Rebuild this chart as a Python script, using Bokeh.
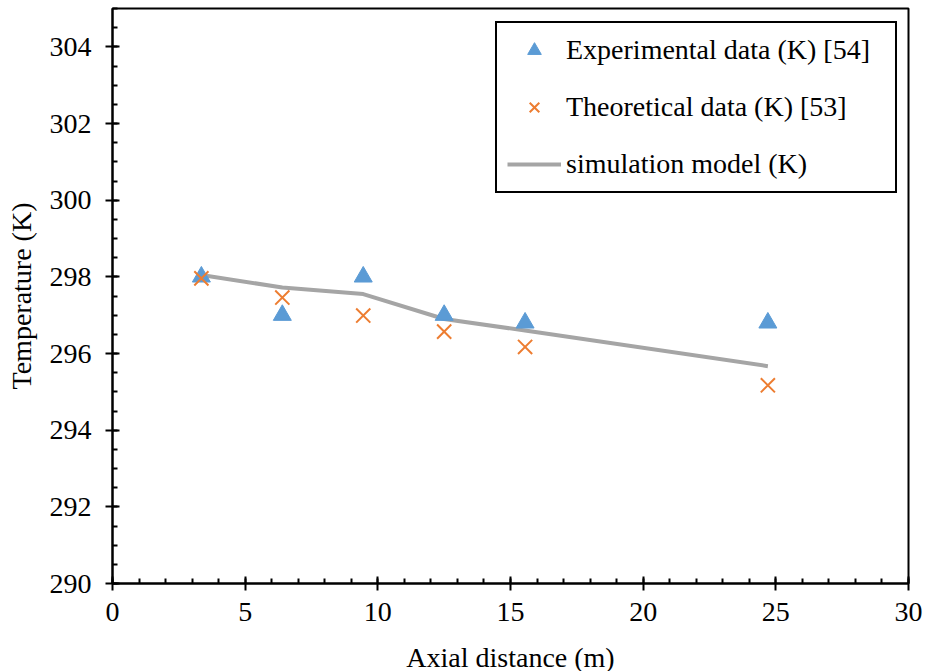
from bokeh.plotting import figure
from bokeh.models import SingleIntervalTicker, Legend, LegendItem, Range1d
from bokeh.embed import file_html
from bokeh.resources import INLINE

# Axial positions (m) and temperatures (K)
axial_distance = [3.35, 6.4, 9.45, 12.5, 15.55, 24.7]
experimental_temp = [298.0, 297.0, 298.0, 297.0, 296.8, 296.8]
theoretical_temp = [297.96, 297.46, 296.99, 296.57, 296.17, 295.17]
simulation_temp = [298.05, 297.72, 297.55, 296.9, 296.6, 295.67]

FONT = "Liberation Serif"
FONT_SIZE = "28px"
BLUE = "#5B9BD5"
ORANGE = "#ED7D31"
GRAY = "#A5A5A5"

p = figure(
    width=928, height=671,
    frame_width=796, frame_height=575,
    min_border_left=112, min_border_top=8, min_border_right=20, min_border_bottom=88,
    x_range=Range1d(0, 30), y_range=Range1d(290, 305),
    output_backend="svg", toolbar_location=None,
)
p.background_fill_color = "white"
p.border_fill_color = "white"
p.outline_line_color = "black"
p.outline_line_alpha = 1.0
p.outline_line_width = 2
p.xgrid.visible = False
p.ygrid.visible = False

p.xaxis.ticker = SingleIntervalTicker(interval=5, num_minor_ticks=5)
p.yaxis.ticker = SingleIntervalTicker(interval=2, num_minor_ticks=4)

for ax in (p.xaxis, p.yaxis):
    ax.axis_line_color = "black"
    ax.axis_line_width = 2
    ax.major_tick_line_color = "black"
    ax.major_tick_line_width = 2
    ax.minor_tick_line_color = "black"
    ax.minor_tick_line_width = 2
    ax.major_tick_in = 7
    ax.major_tick_out = 7
    ax.minor_tick_in = 5
    ax.minor_tick_out = 0
    ax.major_label_text_font = FONT
    ax.major_label_text_font_size = FONT_SIZE
    ax.major_label_text_color = "black"
    ax.axis_label_text_font = FONT
    ax.axis_label_text_font_size = FONT_SIZE
    ax.axis_label_text_font_style = "normal"
    ax.axis_label_text_color = "black"

p.xaxis.axis_label = "Axial distance (m)"
p.yaxis.axis_label = "Temperature (K)"
p.xaxis.major_label_standoff = 12
p.yaxis.major_label_standoff = 14
p.xaxis.axis_label_standoff = 18
p.yaxis.axis_label_standoff = 10

sim = p.line(axial_distance, simulation_temp, line_color=GRAY, line_width=4)
exp = p.scatter(axial_distance, experimental_temp, marker="triangle", size=18,
                fill_color=BLUE, line_color=BLUE)
theo = p.scatter(axial_distance, theoretical_temp, marker="x", size=20,
                 line_color=ORANGE, line_width=2)

legend = Legend(
    items=[
        LegendItem(label="Experimental data (K) [54]", renderers=[exp]),
        LegendItem(label="Theoretical data (K) [53]", renderers=[theo]),
        LegendItem(label="simulation model (K)", renderers=[sim]),
    ],
    location=(383, 390),
    label_text_font=FONT,
    label_text_font_size=FONT_SIZE,
    label_text_color="black",
    glyph_width=54,
    glyph_height=34,
    label_standoff=5,
    label_width=319,
    spacing=23,
    padding=10,
    margin=0,
    border_line_color="black",
    border_line_alpha=1.0,
    border_line_width=2,
    background_fill_alpha=1.0,
)
p.add_layout(legend, "center")

open("out.html", "w").write(file_html(p, INLINE))
